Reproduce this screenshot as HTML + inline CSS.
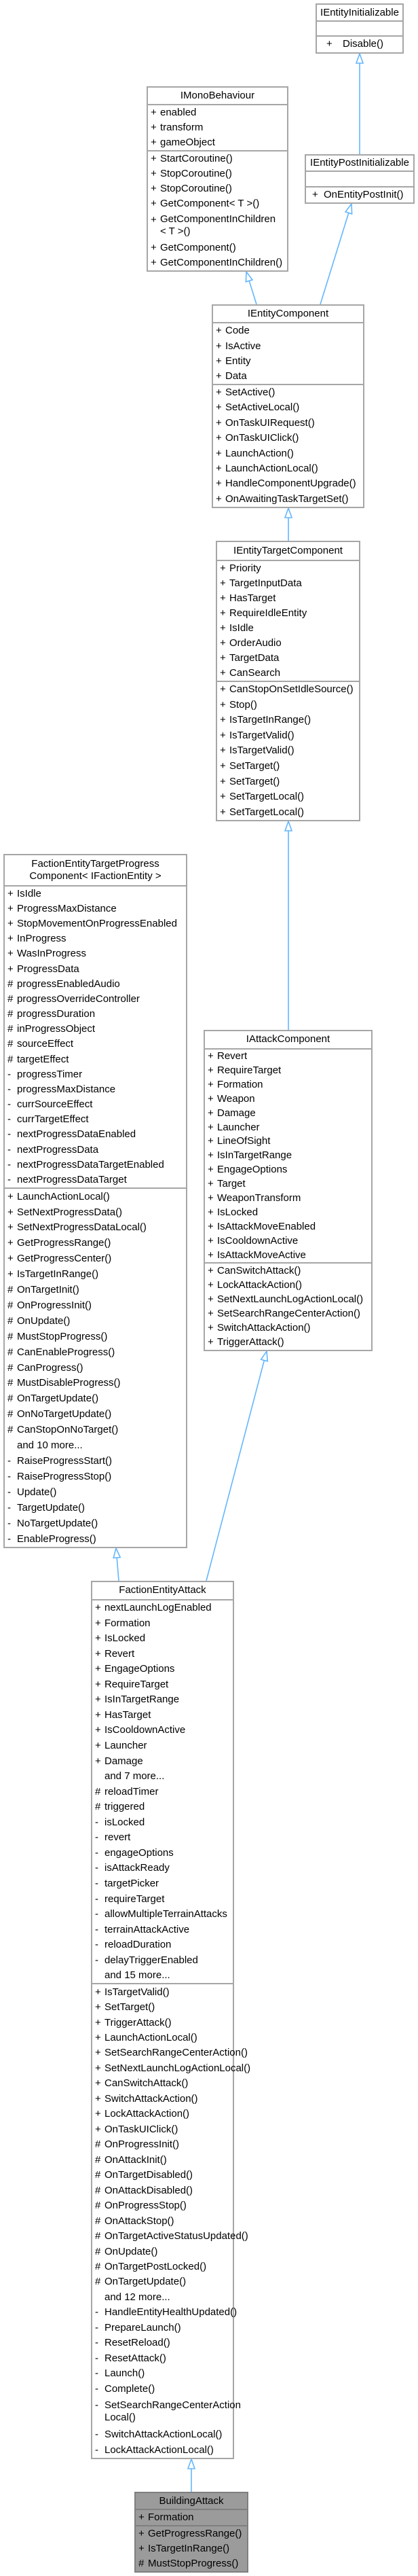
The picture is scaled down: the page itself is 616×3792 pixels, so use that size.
<!DOCTYPE html>
<html><head><meta charset="utf-8">
<style>
html,body{margin:0;padding:0;background:#fff;}
body{width:616px;height:3792px;position:relative;overflow:hidden;font-family:"Liberation Sans",Arial,sans-serif;font-size:15px;color:#000;}
.box{position:absolute;box-sizing:border-box;border:2px solid #a6a6a6;background:#fff;display:flex;flex-direction:column;}
.sec{display:flex;flex-direction:column;min-height:0;}
.sec+.sec{border-top:2px solid #a6a6a6;}
.title{align-items:center;justify-content:center;text-align:center;line-height:18px;}
.r{flex:1 1 0;display:flex;align-items:center;position:relative;white-space:nowrap;line-height:18px;}
.r2{flex:2 1 0;}
.p{position:absolute;left:4px;}
.n{margin-left:18px;}
.dark{background:#9b9b9b;border-color:#7f7f7f;}
.dark .sec+.sec{border-top-color:#7f7f7f;}
svg{position:absolute;left:0;top:0;}
</style></head><body>

<svg width="616" height="3792" viewBox="0 0 616 3792">
<g stroke="#63b6ff" stroke-width="1.6" fill="none">
<line x1="530" y1="227" x2="530" y2="93"/>
<line x1="378" y1="448" x2="367.2" y2="413.4"/>
<line x1="472" y1="448" x2="513.8" y2="313.4"/>
<line x1="425" y1="796" x2="425" y2="762"/>
<line x1="425" y1="1516" x2="425" y2="1223"/>
<line x1="175" y1="2327" x2="172.2" y2="2293"/>
<line x1="304" y1="2327" x2="389.4" y2="2002.5"/>
<line x1="282" y1="3668" x2="282" y2="3634"/>
</g>
<g stroke="#63b6ff" stroke-width="1.6" fill="#fff">
<polygon points="530,79 525,93 535,93"/>
<polygon points="363,400 371.9,411.9 362.4,414.9"/>
<polygon points="518,300 518.6,314.9 509.1,311.9"/>
<polygon points="425,748 420,762 430,762"/>
<polygon points="425,1209 420,1223 430,1223"/>
<polygon points="171,2279 177.2,2292.6 167.2,2293.4"/>
<polygon points="393,1989 394.3,2003.8 384.6,2001.3"/>
<polygon points="282,3620 277,3634 287,3634"/>
</g>
</svg>

<div class="box" style="left:465px;top:5px;width:130px;height:74px;">
<div class="sec title" style="flex:26 1 0">IEntityInitializable</div>
<div class="sec" style="flex:22 1 0"></div>
<div class="sec" style="flex:26 1 0"><div class="r"><span class="p" style="left:14px">+</span><span class="n" style="margin-left:38px">Disable()</span></div></div>
</div>

<div class="box" style="left:216px;top:127px;width:209px;height:273px;">
<div class="sec title" style="flex:25 1 0">IMonoBehaviour</div>
<div class="sec" style="flex:68 1 0">
<div class="r"><span class="p">+</span><span class="n">enabled</span></div>
<div class="r"><span class="p">+</span><span class="n">transform</span></div>
<div class="r"><span class="p">+</span><span class="n">gameObject</span></div>
</div>
<div class="sec" style="flex:180 1 0">
<div class="r"><span class="p">+</span><span class="n">StartCoroutine()</span></div>
<div class="r"><span class="p">+</span><span class="n">StopCoroutine()</span></div>
<div class="r"><span class="p">+</span><span class="n">StopCoroutine()</span></div>
<div class="r"><span class="p">+</span><span class="n">GetComponent&lt; T &gt;()</span></div>
<div class="r r2"><span class="p" style="top:4px">+</span><span class="n">GetComponentInChildren<br>&lt; T &gt;()</span></div>
<div class="r"><span class="p">+</span><span class="n">GetComponent()</span></div>
<div class="r"><span class="p">+</span><span class="n">GetComponentInChildren()</span></div>
</div>
</div>

<div class="box" style="left:449px;top:227px;width:162px;height:73px;">
<div class="sec title" style="flex:25 1 0">IEntityPostInitializable</div>
<div class="sec" style="flex:23 1 0"></div>
<div class="sec" style="flex:25 1 0"><div class="r"><span class="p" style="left:9px">+</span><span class="n" style="margin-left:26px">OnEntityPostInit()</span></div></div>
</div>

<div class="box" style="left:312px;top:448px;width:225px;height:300px;">
<div class="sec title" style="flex:25 1 0">IEntityComponent</div>
<div class="sec" style="flex:91 1 0">
<div class="r"><span class="p">+</span><span class="n">Code</span></div>
<div class="r"><span class="p">+</span><span class="n">IsActive</span></div>
<div class="r"><span class="p">+</span><span class="n">Entity</span></div>
<div class="r"><span class="p">+</span><span class="n">Data</span></div>
</div>
<div class="sec" style="flex:184 1 0">
<div class="r"><span class="p">+</span><span class="n">SetActive()</span></div>
<div class="r"><span class="p">+</span><span class="n">SetActiveLocal()</span></div>
<div class="r"><span class="p">+</span><span class="n">OnTaskUIRequest()</span></div>
<div class="r"><span class="p">+</span><span class="n">OnTaskUIClick()</span></div>
<div class="r"><span class="p">+</span><span class="n">LaunchAction()</span></div>
<div class="r"><span class="p">+</span><span class="n">LaunchActionLocal()</span></div>
<div class="r"><span class="p">+</span><span class="n">HandleComponentUpgrade()</span></div>
<div class="r"><span class="p">+</span><span class="n">OnAwaitingTaskTargetSet()</span></div>
</div>
</div>

<div class="box" style="left:318px;top:796px;width:213px;height:413px;">
<div class="sec title" style="flex:26 1 0">IEntityTargetComponent</div>
<div class="sec" style="flex:180 1 0">
<div class="r"><span class="p">+</span><span class="n">Priority</span></div>
<div class="r"><span class="p">+</span><span class="n">TargetInputData</span></div>
<div class="r"><span class="p">+</span><span class="n">HasTarget</span></div>
<div class="r"><span class="p">+</span><span class="n">RequireIdleEntity</span></div>
<div class="r"><span class="p">+</span><span class="n">IsIdle</span></div>
<div class="r"><span class="p">+</span><span class="n">OrderAudio</span></div>
<div class="r"><span class="p">+</span><span class="n">TargetData</span></div>
<div class="r"><span class="p">+</span><span class="n">CanSearch</span></div>
</div>
<div class="sec" style="flex:207 1 0">
<div class="r"><span class="p">+</span><span class="n">CanStopOnSetIdleSource()</span></div>
<div class="r"><span class="p">+</span><span class="n">Stop()</span></div>
<div class="r"><span class="p">+</span><span class="n">IsTargetInRange()</span></div>
<div class="r"><span class="p">+</span><span class="n">IsTargetValid()</span></div>
<div class="r"><span class="p">+</span><span class="n">IsTargetValid()</span></div>
<div class="r"><span class="p">+</span><span class="n">SetTarget()</span></div>
<div class="r"><span class="p">+</span><span class="n">SetTarget()</span></div>
<div class="r"><span class="p">+</span><span class="n">SetTargetLocal()</span></div>
<div class="r"><span class="p">+</span><span class="n">SetTargetLocal()</span></div>
</div>
</div>

<div class="box" style="left:5px;top:1257px;width:271px;height:1022px;">
<div class="sec title" style="flex:44 1 0">FactionEntityTargetProgress<br>Component&lt; IFactionEntity &gt;</div>
<div class="sec" style="flex:447 1 0">
<div class="r"><span class="p">+</span><span class="n">IsIdle</span></div>
<div class="r"><span class="p">+</span><span class="n">ProgressMaxDistance</span></div>
<div class="r"><span class="p">+</span><span class="n">StopMovementOnProgressEnabled</span></div>
<div class="r"><span class="p">+</span><span class="n">InProgress</span></div>
<div class="r"><span class="p">+</span><span class="n">WasInProgress</span></div>
<div class="r"><span class="p">+</span><span class="n">ProgressData</span></div>
<div class="r"><span class="p">#</span><span class="n">progressEnabledAudio</span></div>
<div class="r"><span class="p">#</span><span class="n">progressOverrideController</span></div>
<div class="r"><span class="p">#</span><span class="n">progressDuration</span></div>
<div class="r"><span class="p">#</span><span class="n">inProgressObject</span></div>
<div class="r"><span class="p">#</span><span class="n">sourceEffect</span></div>
<div class="r"><span class="p">#</span><span class="n">targetEffect</span></div>
<div class="r"><span class="p">-</span><span class="n">progressTimer</span></div>
<div class="r"><span class="p">-</span><span class="n">progressMaxDistance</span></div>
<div class="r"><span class="p">-</span><span class="n">currSourceEffect</span></div>
<div class="r"><span class="p">-</span><span class="n">currTargetEffect</span></div>
<div class="r"><span class="p">-</span><span class="n">nextProgressDataEnabled</span></div>
<div class="r"><span class="p">-</span><span class="n">nextProgressData</span></div>
<div class="r"><span class="p">-</span><span class="n">nextProgressDataTargetEnabled</span></div>
<div class="r"><span class="p">-</span><span class="n">nextProgressDataTarget</span></div>
</div>
<div class="sec" style="flex:531 1 0">
<div class="r"><span class="p">+</span><span class="n">LaunchActionLocal()</span></div>
<div class="r"><span class="p">+</span><span class="n">SetNextProgressData()</span></div>
<div class="r"><span class="p">+</span><span class="n">SetNextProgressDataLocal()</span></div>
<div class="r"><span class="p">+</span><span class="n">GetProgressRange()</span></div>
<div class="r"><span class="p">+</span><span class="n">GetProgressCenter()</span></div>
<div class="r"><span class="p">+</span><span class="n">IsTargetInRange()</span></div>
<div class="r"><span class="p">#</span><span class="n">OnTargetInit()</span></div>
<div class="r"><span class="p">#</span><span class="n">OnProgressInit()</span></div>
<div class="r"><span class="p">#</span><span class="n">OnUpdate()</span></div>
<div class="r"><span class="p">#</span><span class="n">MustStopProgress()</span></div>
<div class="r"><span class="p">#</span><span class="n">CanEnableProgress()</span></div>
<div class="r"><span class="p">#</span><span class="n">CanProgress()</span></div>
<div class="r"><span class="p">#</span><span class="n">MustDisableProgress()</span></div>
<div class="r"><span class="p">#</span><span class="n">OnTargetUpdate()</span></div>
<div class="r"><span class="p">#</span><span class="n">OnNoTargetUpdate()</span></div>
<div class="r"><span class="p">#</span><span class="n">CanStopOnNoTarget()</span></div>
<div class="r"><span class="n">and 10 more...</span></div>
<div class="r"><span class="p">-</span><span class="n">RaiseProgressStart()</span></div>
<div class="r"><span class="p">-</span><span class="n">RaiseProgressStop()</span></div>
<div class="r"><span class="p">-</span><span class="n">Update()</span></div>
<div class="r"><span class="p">-</span><span class="n">TargetUpdate()</span></div>
<div class="r"><span class="p">-</span><span class="n">NoTargetUpdate()</span></div>
<div class="r"><span class="p">-</span><span class="n">EnableProgress()</span></div>
</div>
</div>

<div class="box" style="left:300px;top:1516px;width:249px;height:473px;">
<div class="sec title" style="flex:25 1 0">IAttackComponent</div>
<div class="sec" style="flex:319 1 0">
<div class="r"><span class="p">+</span><span class="n">Revert</span></div>
<div class="r"><span class="p">+</span><span class="n">RequireTarget</span></div>
<div class="r"><span class="p">+</span><span class="n">Formation</span></div>
<div class="r"><span class="p">+</span><span class="n">Weapon</span></div>
<div class="r"><span class="p">+</span><span class="n">Damage</span></div>
<div class="r"><span class="p">+</span><span class="n">Launcher</span></div>
<div class="r"><span class="p">+</span><span class="n">LineOfSight</span></div>
<div class="r"><span class="p">+</span><span class="n">IsInTargetRange</span></div>
<div class="r"><span class="p">+</span><span class="n">EngageOptions</span></div>
<div class="r"><span class="p">+</span><span class="n">Target</span></div>
<div class="r"><span class="p">+</span><span class="n">WeaponTransform</span></div>
<div class="r"><span class="p">+</span><span class="n">IsLocked</span></div>
<div class="r"><span class="p">+</span><span class="n">IsAttackMoveEnabled</span></div>
<div class="r"><span class="p">+</span><span class="n">IsCooldownActive</span></div>
<div class="r"><span class="p">+</span><span class="n">IsAttackMoveActive</span></div>
</div>
<div class="sec" style="flex:129 1 0">
<div class="r"><span class="p">+</span><span class="n">CanSwitchAttack()</span></div>
<div class="r"><span class="p">+</span><span class="n">LockAttackAction()</span></div>
<div class="r"><span class="p">+</span><span class="n">SetNextLaunchLogActionLocal()</span></div>
<div class="r"><span class="p">+</span><span class="n">SetSearchRangeCenterAction()</span></div>
<div class="r"><span class="p">+</span><span class="n">SwitchAttackAction()</span></div>
<div class="r"><span class="p">+</span><span class="n">TriggerAttack()</span></div>
</div>
</div>

<div class="box" style="left:134px;top:2327px;width:211px;height:1293px;">
<div class="sec title" style="flex:25 1 0">FactionEntityAttack</div>
<div class="sec" style="flex:567 1 0">
<div class="r"><span class="p">+</span><span class="n">nextLaunchLogEnabled</span></div>
<div class="r"><span class="p">+</span><span class="n">Formation</span></div>
<div class="r"><span class="p">+</span><span class="n">IsLocked</span></div>
<div class="r"><span class="p">+</span><span class="n">Revert</span></div>
<div class="r"><span class="p">+</span><span class="n">EngageOptions</span></div>
<div class="r"><span class="p">+</span><span class="n">RequireTarget</span></div>
<div class="r"><span class="p">+</span><span class="n">IsInTargetRange</span></div>
<div class="r"><span class="p">+</span><span class="n">HasTarget</span></div>
<div class="r"><span class="p">+</span><span class="n">IsCooldownActive</span></div>
<div class="r"><span class="p">+</span><span class="n">Launcher</span></div>
<div class="r"><span class="p">+</span><span class="n">Damage</span></div>
<div class="r"><span class="n">and 7 more...</span></div>
<div class="r"><span class="p">#</span><span class="n">reloadTimer</span></div>
<div class="r"><span class="p">#</span><span class="n">triggered</span></div>
<div class="r"><span class="p">-</span><span class="n">isLocked</span></div>
<div class="r"><span class="p">-</span><span class="n">revert</span></div>
<div class="r"><span class="p">-</span><span class="n">engageOptions</span></div>
<div class="r"><span class="p">-</span><span class="n">isAttackReady</span></div>
<div class="r"><span class="p">-</span><span class="n">targetPicker</span></div>
<div class="r"><span class="p">-</span><span class="n">requireTarget</span></div>
<div class="r"><span class="p">-</span><span class="n">allowMultipleTerrainAttacks</span></div>
<div class="r"><span class="p">-</span><span class="n">terrainAttackActive</span></div>
<div class="r"><span class="p">-</span><span class="n">reloadDuration</span></div>
<div class="r"><span class="p">-</span><span class="n">delayTriggerEnabled</span></div>
<div class="r"><span class="n">and 15 more...</span></div>
</div>
<div class="sec" style="flex:701 1 0">
<div class="r"><span class="p">+</span><span class="n">IsTargetValid()</span></div>
<div class="r"><span class="p">+</span><span class="n">SetTarget()</span></div>
<div class="r"><span class="p">+</span><span class="n">TriggerAttack()</span></div>
<div class="r"><span class="p">+</span><span class="n">LaunchActionLocal()</span></div>
<div class="r"><span class="p">+</span><span class="n">SetSearchRangeCenterAction()</span></div>
<div class="r"><span class="p">+</span><span class="n">SetNextLaunchLogActionLocal()</span></div>
<div class="r"><span class="p">+</span><span class="n">CanSwitchAttack()</span></div>
<div class="r"><span class="p">+</span><span class="n">SwitchAttackAction()</span></div>
<div class="r"><span class="p">+</span><span class="n">LockAttackAction()</span></div>
<div class="r"><span class="p">+</span><span class="n">OnTaskUIClick()</span></div>
<div class="r"><span class="p">#</span><span class="n">OnProgressInit()</span></div>
<div class="r"><span class="p">#</span><span class="n">OnAttackInit()</span></div>
<div class="r"><span class="p">#</span><span class="n">OnTargetDisabled()</span></div>
<div class="r"><span class="p">#</span><span class="n">OnAttackDisabled()</span></div>
<div class="r"><span class="p">#</span><span class="n">OnProgressStop()</span></div>
<div class="r"><span class="p">#</span><span class="n">OnAttackStop()</span></div>
<div class="r"><span class="p">#</span><span class="n">OnTargetActiveStatusUpdated()</span></div>
<div class="r"><span class="p">#</span><span class="n">OnUpdate()</span></div>
<div class="r"><span class="p">#</span><span class="n">OnTargetPostLocked()</span></div>
<div class="r"><span class="p">#</span><span class="n">OnTargetUpdate()</span></div>
<div class="r"><span class="n">and 12 more...</span></div>
<div class="r"><span class="p">-</span><span class="n">HandleEntityHealthUpdated()</span></div>
<div class="r"><span class="p">-</span><span class="n">PrepareLaunch()</span></div>
<div class="r"><span class="p">-</span><span class="n">ResetReload()</span></div>
<div class="r"><span class="p">-</span><span class="n">ResetAttack()</span></div>
<div class="r"><span class="p">-</span><span class="n">Launch()</span></div>
<div class="r"><span class="p">-</span><span class="n">Complete()</span></div>
<div class="r r2"><span class="p" style="top:4px">-</span><span class="n">SetSearchRangeCenterAction<br>Local()</span></div>
<div class="r"><span class="p">-</span><span class="n">SwitchAttackActionLocal()</span></div>
<div class="r"><span class="p">-</span><span class="n">LockAttackActionLocal()</span></div>
</div>
</div>

<div class="box dark" style="left:198px;top:3668px;width:168px;height:119px;">
<div class="sec title" style="flex:25 1 0">BuildingAttack</div>
<div class="sec" style="flex:23 1 0">
<div class="r"><span class="p">+</span><span class="n">Formation</span></div>
</div>
<div class="sec" style="flex:71 1 0">
<div class="r"><span class="p">+</span><span class="n">GetProgressRange()</span></div>
<div class="r"><span class="p">+</span><span class="n">IsTargetInRange()</span></div>
<div class="r"><span class="p">#</span><span class="n">MustStopProgress()</span></div>
</div>
</div>

</body></html>
